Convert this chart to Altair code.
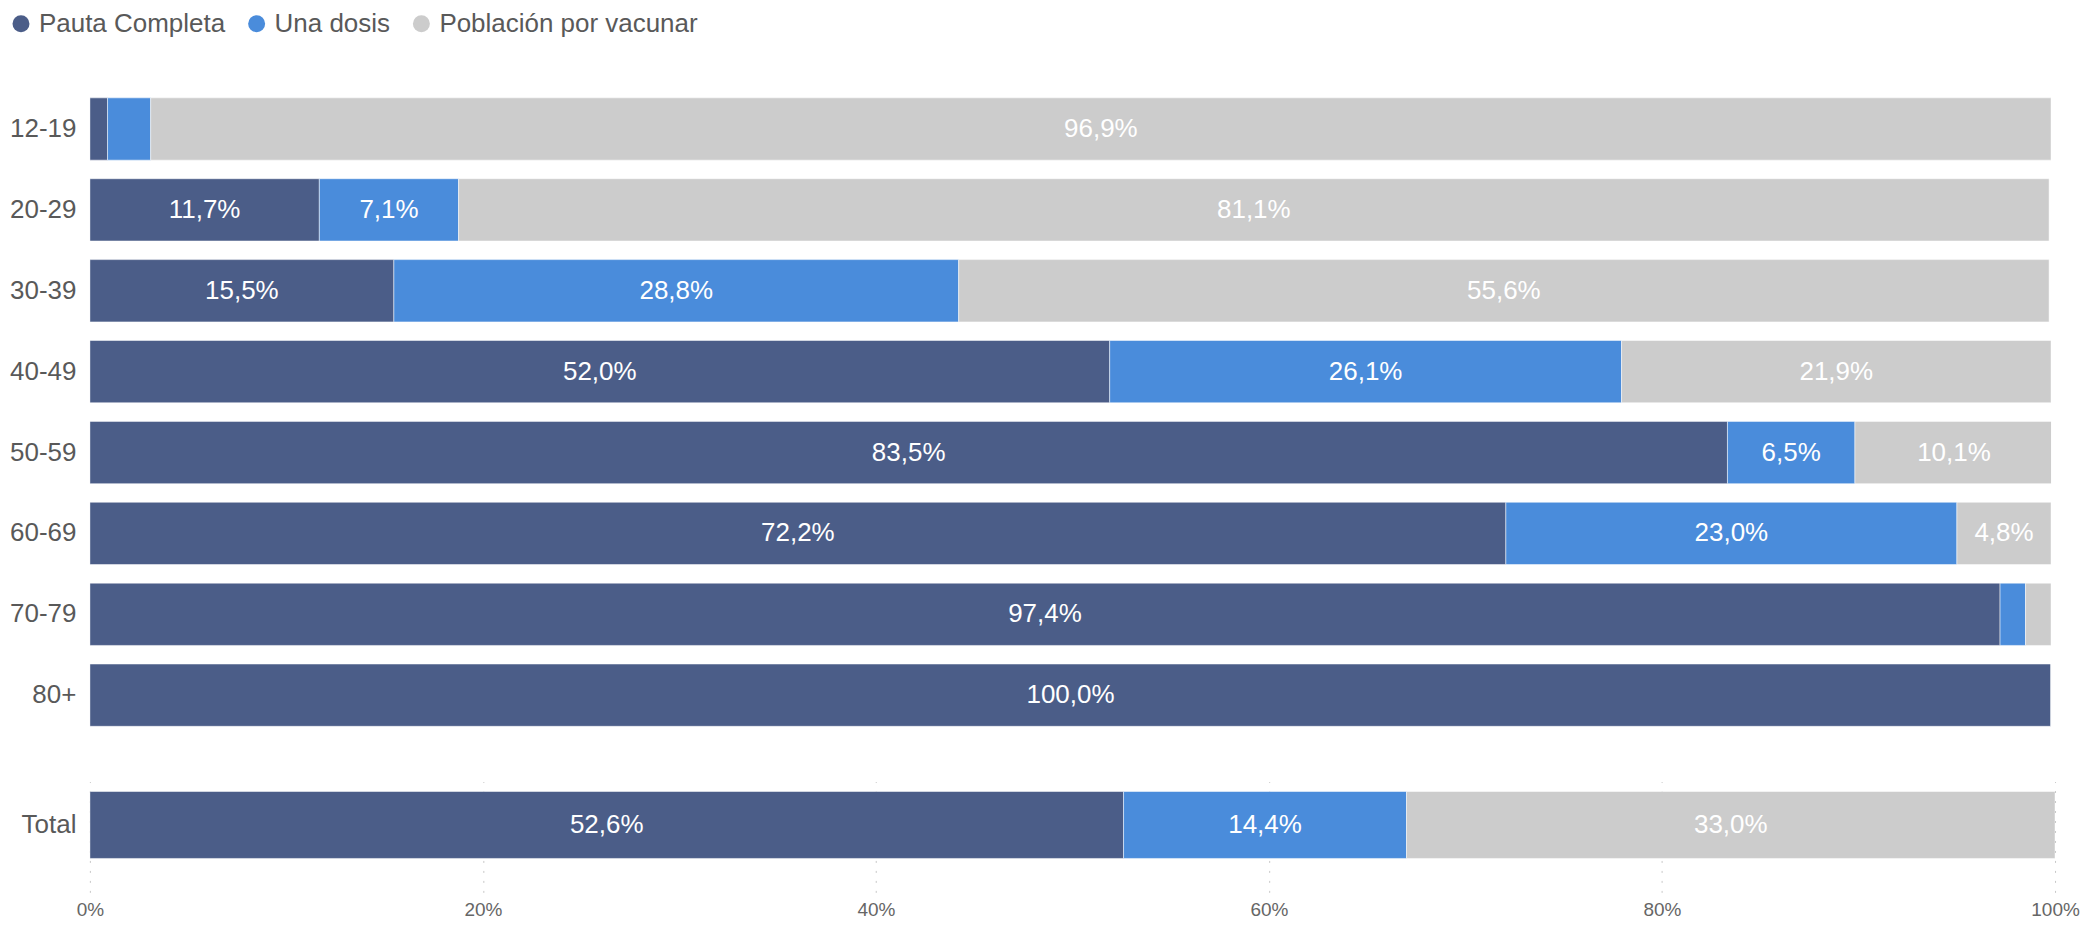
import altair as alt
import pandas as pd

grupos = ["12-19", "20-29", "30-39", "40-49", "50-59", "60-69", "70-79", "80+"]
pauta = [0.9, 11.7, 15.5, 52.0, 83.5, 72.2, 97.4, 100.0]
una_dosis = [2.2, 7.1, 28.8, 26.1, 6.5, 23.0, 1.3, 0.0]
por_vacunar = [96.9, 81.1, 55.6, 21.9, 10.1, 4.8, 1.3, 0.0]
total_grupo = ["Total"]
total_vals = [52.6, 14.4, 33.0]
series = ["Pauta Completa", "Una dosis", "Población por vacunar"]
colores = ["#4b5d88", "#4a8cdb", "#cccccc"]
x_ticks = [0, 20, 40, 60, 80, 100]

rows = []
for i, g in enumerate(grupos):
    for j, (s, vals) in enumerate(zip(series, [pauta, una_dosis, por_vacunar])):
        rows.append({"grupo": g, "serie": s, "orden": j, "valor": vals[i]})
df = pd.DataFrame(rows)
df_total = pd.DataFrame(
    [{"grupo": total_grupo[0], "serie": s, "orden": j, "valor": v}
     for j, (s, v) in enumerate(zip(series, total_vals))]
)

FONT = "Liberation Sans"

legend = alt.Legend(
    orient="none", direction="horizontal", legendX=-82, legendY=-78,
    title=None, labelFontSize=26, labelFont=FONT, labelColor="#595959",
    labelLimit=600, symbolType="circle", symbolSize=289, symbolStrokeWidth=0,
    columnPadding=18, labelOffset=5,
)


def panel(data, sort, w, h, y_scale, show_x):
    base = alt.Chart(data).transform_stack(
        stack="valor", groupby=["grupo"], as_=["x0", "x1"],
        sort=[alt.SortField("orden")]
    ).transform_calculate(
        mid="(datum.x0 + datum.x1) / 2",
        etiqueta="replace(format(datum.valor, '.1f'), '.', ',') + '%'",
    )
    xscale = alt.Scale(domain=[0, 100], nice=False)
    if show_x:
        xaxis = alt.Axis(
            values=x_ticks, labelExpr="datum.value + '%'", grid=True,
            gridDash=[2, 8], gridColor="#c8c8c8", domain=False, ticks=False,
            labelFontSize=19, labelFont=FONT, labelColor="#666666",
            labelPadding=8, labelFlush=False, title=None,
        )
    else:
        xaxis = None
    yaxis = alt.Axis(
        title=None, domain=False, ticks=False, labelFontSize=26,
        labelFont=FONT, labelColor="#595959", labelPadding=14,
    )
    bars = base.mark_bar(
        stroke="white", strokeWidth=1, strokeOpacity=0.5, clip=True
    ).encode(
        x=alt.X("x0:Q", scale=xscale, axis=xaxis),
        x2="x1:Q",
        y=alt.Y("grupo:N", sort=sort, scale=y_scale, axis=yaxis),
        color=alt.Color("serie:N", scale=alt.Scale(domain=series, range=colores),
                        legend=legend),
    )
    text = base.transform_filter("datum.valor >= 3").mark_text(
        color="white", fontSize=26, font=FONT
    ).encode(
        x=alt.X("mid:Q", scale=xscale, axis=xaxis),
        y=alt.Y("grupo:N", sort=sort, scale=y_scale, axis=yaxis),
        text="etiqueta:N",
    )
    return alt.layer(bars, text).properties(width=w, height=h)


top = panel(df, grupos, 1964, 648,
            alt.Scale(paddingInner=0.23, paddingOuter=0.115), False)
bottom = panel(df_total, total_grupo, 1968, 111,
               alt.Scale(paddingInner=0, paddingOuter=0.328, align=0.227), True)

chart = alt.vconcat(top, bottom, spacing=46).properties(
    padding={"left": 0, "top": 2, "right": 5, "bottom": 5}
).configure(font=FONT, view=alt.ViewConfig(stroke=None))

chart.save("out.html", embed_options={"renderer": "svg", "actions": False})
